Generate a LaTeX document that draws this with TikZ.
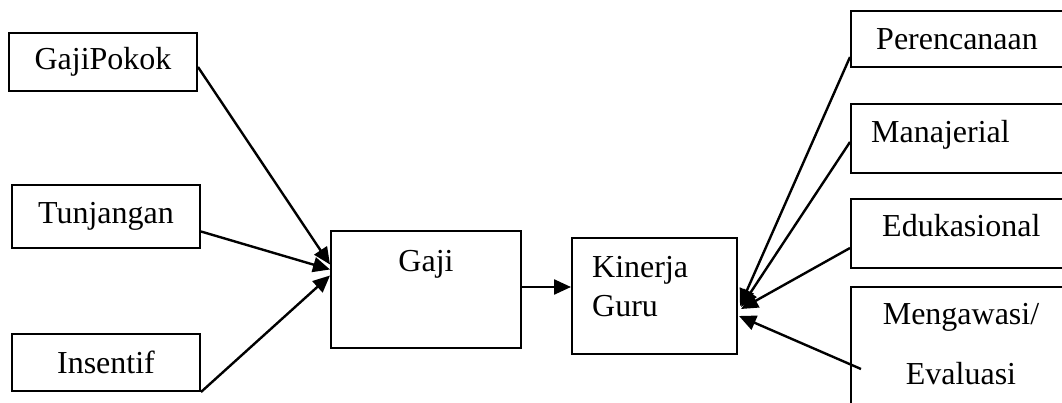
\documentclass[tikz,border=0pt]{standalone}
\usepackage{fontspec}
\setmainfont{Liberation Serif}
\usetikzlibrary{arrows.meta,calc}
\begin{document}
\begin{tikzpicture}[x=1pt,y=-1pt,
  box/.style={draw=black,line width=2pt,inner sep=0pt,font=\fontsize{32}{39}\selectfont},
  txt/.style={inner sep=0pt,font=\fontsize{32}{39}\selectfont},
  arr/.style={line width=2.4pt,-{Triangle[length=17pt,width=15pt]}}]
\clip (0,0) rectangle (1062,403);
\fill[white] (0,0) rectangle (1062,403);
% left boxes
\node[box,minimum width=188,minimum height=58] (gp) at (103,62) {GajiPokok};
\node[box,minimum width=188,minimum height=63] (tun) at (106,216.5) {Tunjangan};
\node[box,minimum width=188,minimum height=57] (ins) at (106,362.5) {Insentif};
% middle boxes
\node[box,minimum width=190,minimum height=117] (gaji) at (426,289.5) {};
\node[txt,anchor=base] (tgaji) at ($(gaji.north)+(0,41)$) {Gaji};
\node[box,minimum width=165,minimum height=116] (kin) at (654.5,296) {};
\node[txt,anchor=base west] (tkin1) at ($(kin.north west)+(21,40)$) {Kinerja};
\node[txt,anchor=base west] (tkin2) at ($(kin.north west)+(21,79)$) {Guru};
% right boxes
\node[box,minimum width=249,minimum height=56] (per) at (975.5,39) {};
\node[txt,anchor=base west] (tper) at ($(per.north west)+(26,40)$) {Perencanaan};
\node[box,minimum width=249,minimum height=69] (man) at (975.5,138.5) {};
\node[txt,anchor=base west] (tman) at ($(man.north west)+(21,40)$) {Manajerial};
\node[box,minimum width=249,minimum height=69] (edu) at (975.5,233.5) {};
\node[txt,anchor=base west] (tedu) at ($(edu.north west)+(32,39)$) {Edukasional};
\node[box,minimum width=249,minimum height=153] (meng) at (975.5,363.5) {};
\node[txt,anchor=base] (tmeng1) at ($(meng.north west)+(111,38)$) {Mengawasi/};
\node[txt,anchor=base] (tmeng2) at ($(meng.north west)+(111,98)$) {Evaluasi};
% connectors
\draw[arr] ($(gp.east)+(0,5)$) -- ($(gaji.west)+(0,-25)$);
\draw[arr] ($(tun.east)+(0,15)$) -- ($(gaji.west)+(0,-20)$);
\draw[arr] (ins.south east) -- ($(gaji.west)+(0,-14)$);
\draw[arr] ($(gaji.east)+(0,-2.5)$) -- ($(kin.west)+(0,-9)$);
\draw[arr] ($(per.west)+(0,18)$) -- ($(kin.east)+(2,10)$);
\draw[arr] ($(man.west)+(0,3.5)$) -- ($(kin.east)+(3,11)$);
\draw[arr] ($(edu.west)+(0,14.5)$) -- ($(kin.east)+(3,13)$);
\draw[arr] ($(meng.north west)+(11,83)$) -- ($(kin.east)+(1,20)$);
\end{tikzpicture}
\end{document}
